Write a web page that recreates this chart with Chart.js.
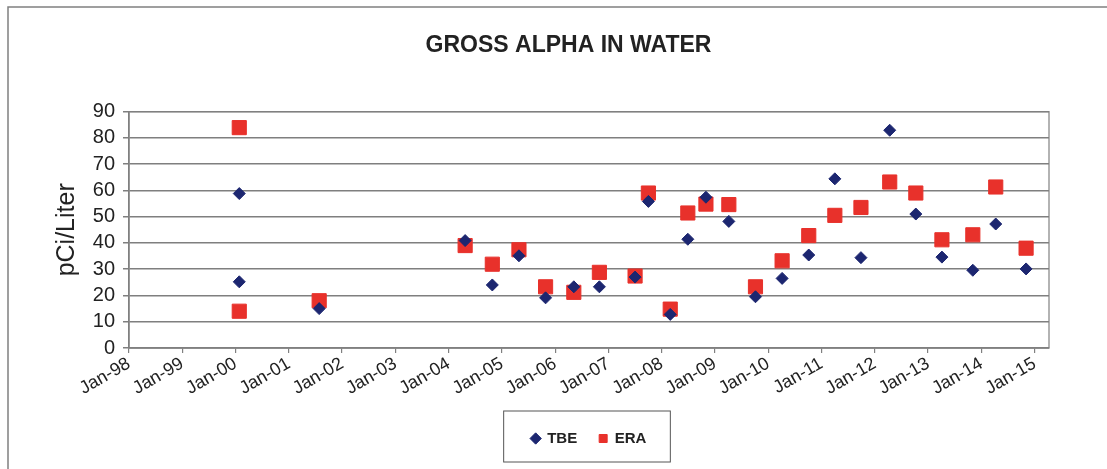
<!DOCTYPE html>
<html>
<head>
<meta charset="utf-8">
<script src="https://cdn.jsdelivr.net/npm/chart.js@4"></script>
<style>
  body { margin: 0; background: #fff; }
  #wrap { position: relative; width: 1107px; height: 469px; }
</style>
</head>
<body>
<div id="wrap"><canvas id="canvas"></canvas></div>
<script>
// sample dates as decimal years, values in pCi/Liter
var tbeDates = [2000.07, 2000.07, 2001.57, 2004.31, 2004.82, 2005.32, 2005.82, 2006.35, 2006.83, 2007.50, 2007.75, 2008.16, 2008.49, 2008.83, 2009.26, 2009.76, 2010.26, 2010.76, 2011.25, 2011.74, 2012.28, 2012.77, 2013.26, 2013.84, 2014.27, 2014.84];
var tbeValues = [58.8, 25.2, 15.0, 40.9, 24.0, 35.1, 19.1, 23.3, 23.3, 27.0, 55.8, 12.8, 41.4, 57.4, 48.2, 19.5, 26.5, 35.4, 64.4, 34.4, 82.9, 51.0, 34.6, 29.6, 47.2, 30.1];
var eraDates = [2000.07, 2000.07, 2001.57, 2004.31, 2004.82, 2005.32, 2005.82, 2006.35, 2006.83, 2007.50, 2007.75, 2008.16, 2008.49, 2008.83, 2009.26, 2009.76, 2010.26, 2010.76, 2011.25, 2011.74, 2012.28, 2012.77, 2013.26, 2013.84, 2014.27, 2014.84];
var eraValues = [83.9, 14.0, 18.0, 39.0, 31.9, 37.4, 23.3, 21.2, 28.8, 27.4, 59.0, 14.8, 51.4, 54.8, 54.6, 23.3, 33.2, 42.8, 50.5, 53.5, 63.2, 59.0, 41.2, 43.1, 61.3, 38.0];
var yTicks = [0, 10, 20, 30, 40, 50, 60, 70, 80, 90];

function toPoints(dates, vals) {
  var pts = [];
  for (var i = 0; i < dates.length; i++) pts.push({x: dates[i], y: vals[i]});
  return pts;
}

var framePlugin = {
  id: 'frame',
  afterLayout: function(chart) {
    // title sits a bit right of the canvas centre, as in the original
    chart.titleBlock.left += 44;
    chart.titleBlock.right += 44;
  },
  beforeDraw: function(chart) {
    var ctx = chart.ctx;
    ctx.save();
    ctx.strokeStyle = '#808080';
    ctx.lineWidth = 1.5;
    ctx.beginPath();
    ctx.moveTo(8, chart.height);
    ctx.lineTo(8, 7);
    ctx.lineTo(chart.width, 7);
    ctx.stroke();
    ctx.restore();
  },
  afterDraw: function(chart) {
    var ctx = chart.ctx, a = chart.chartArea;
    ctx.save();
    ctx.strokeStyle = '#808080';
    ctx.lineWidth = 1.2;
    ctx.strokeRect(a.left, a.top, a.right - a.left, a.bottom - a.top);
    // box round the legend items
    var hb = chart.legend.legendHitBoxes;
    if (hb && hb.length) {
      var l = hb[0].left - 28, r = hb[hb.length - 1].left + hb[hb.length - 1].width + 24;
      var t = chart.legend.top + 2, b = chart.legend.bottom + 6;
      ctx.strokeStyle = '#555';
      ctx.lineWidth = 1;
      ctx.strokeRect(l, t, r - l, b - t);
    }
    ctx.restore();
  }
};

window.onload = function() {
  var ctx = document.getElementById('canvas').getContext('2d');
  window.myChart = new Chart(ctx, {
    type: 'scatter',
    data: {
      datasets: [{
        label: 'TBE',
        data: toPoints(tbeDates, tbeValues),
        pointStyle: 'rectRot',
        pointRadius: 6,
        pointHoverRadius: 6,
        backgroundColor: '#1c2670',
        borderColor: '#1c2670',
        borderWidth: 1
      }, {
        label: 'ERA',
        data: toPoints(eraDates, eraValues),
        pointStyle: 'rect',
        pointRadius: 10,
        pointHoverRadius: 10,
        backgroundColor: '#e8312b',
        borderColor: '#e8312b',
        borderWidth: 1
      }]
    },
    options: {
      responsive: true,
      maintainAspectRatio: false,
      animation: false,
      layout: { padding: { left: 0, right: 58, top: 0, bottom: 13 } },
      plugins: {
        title: {
          display: true,
          text: 'GROSS ALPHA IN WATER',
          color: '#222',
          font: { family: 'Liberation Sans, Arial', size: 23, weight: 'bold' },
          padding: { top: 32, bottom: 52 }
        },
        legend: {
          position: 'bottom',
          fullSize: false,
          labels: {
            usePointStyle: true,
            boxWidth: 8,
            boxHeight: 8,
            padding: 22,
            color: '#222',
            font: { family: 'Liberation Sans, Arial', size: 15, weight: 'bold' }
          }
        },
        tooltip: { enabled: false }
      },
      scales: {
        x: {
          type: 'linear',
          min: 1998,
          max: 2015.27,
          afterBuildTicks: function(scale) {
            var t = [];
            for (var y = 1998; y <= 2015; y++) t.push({value: y});
            scale.ticks = t;
          },
          afterFit: function(scale) { scale.height = 61; },
          grid: { drawOnChartArea: false, drawTicks: true, tickLength: 5, color: '#808080', lineWidth: 1.2 },
          border: { color: '#808080', width: 1.5 },
          ticks: {
            autoSkip: false,
            minRotation: 30,
            maxRotation: 30,
            padding: 0,
            color: '#222',
            font: { family: 'Liberation Sans, Arial', size: 18 },
            callback: function(v) { return 'Jan-' + String(v % 100).padStart(2, '0'); }
          }
        },
        y: {
          min: 0,
          max: 90,
          afterBuildTicks: function(scale) {
            scale.ticks = yTicks.map(function(v) { return {value: v}; });
          },
          afterFit: function(scale) { scale.width = 129; },
          grid: { color: '#7f7f7f', lineWidth: 1.5, tickLength: 6 },
          border: { color: '#808080', width: 1.5 },
          title: {
            display: true,
            text: 'pCi/Liter',
            color: '#222',
            font: { family: 'Liberation Sans, Arial', size: 25 },
            padding: { top: 52, bottom: 0 }
          },
          ticks: {
            autoSkip: false,
            color: '#222',
            padding: 8,
            font: { family: 'Liberation Sans, Arial', size: 20 }
          }
        }
      }
    },
    plugins: [framePlugin]
  });
};
</script>
</body>
</html>
